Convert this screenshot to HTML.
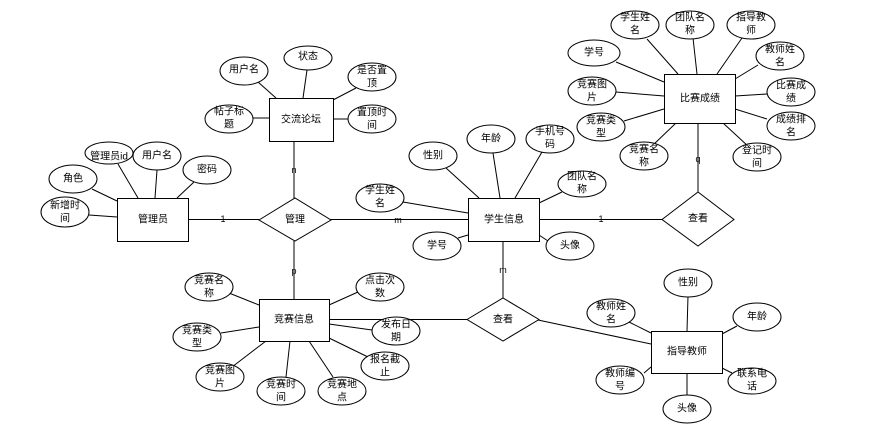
<!DOCTYPE html>
<html><head><meta charset="utf-8"><style>
html,body{margin:0;padding:0;background:#fff;}
svg{display:block;}
text{font-family:"Liberation Sans","Noto Sans CJK SC",sans-serif;font-size:10px;fill:#000;text-anchor:middle;dominant-baseline:central;}
.lbl{font-size:9px;}
</style></head><body>
<svg width="891" height="440" viewBox="0 0 891 440" xmlns="http://www.w3.org/2000/svg">
<g stroke="#000" stroke-width="1" fill="none">
<!-- admin -->
<line x1="92" y1="189" x2="117" y2="201"/>
<line x1="89" y1="215" x2="117" y2="217"/>
<line x1="118" y1="164" x2="138" y2="198"/>
<line x1="157" y1="170" x2="155" y2="198"/>
<line x1="194" y1="182" x2="177" y2="198"/>
<line x1="188" y1="219.5" x2="259" y2="219.5"/>
<line x1="294" y1="141" x2="294" y2="199"/>
<line x1="330" y1="219.5" x2="468" y2="219.5"/>
<line x1="294" y1="241" x2="294" y2="299"/>
<!-- forum -->
<line x1="258" y1="82" x2="276" y2="98"/>
<line x1="307" y1="70" x2="303" y2="98"/>
<line x1="356" y1="88" x2="333" y2="100"/>
<line x1="253" y1="118" x2="269" y2="118"/>
<line x1="333" y1="119" x2="348" y2="119"/>
<!-- student -->
<line x1="446" y1="168" x2="479" y2="198"/>
<line x1="493" y1="153" x2="500" y2="198"/>
<line x1="542" y1="152" x2="515" y2="198"/>
<line x1="562" y1="192" x2="539" y2="203"/>
<line x1="403" y1="202" x2="468" y2="213"/>
<line x1="458" y1="238" x2="468" y2="235"/>
<line x1="548" y1="241" x2="539" y2="235"/>
<line x1="539" y1="219.5" x2="662" y2="219.5"/>
<line x1="503" y1="241" x2="503" y2="298"/>
<!-- result -->
<line x1="698" y1="123" x2="698" y2="192"/>
<line x1="647" y1="39" x2="678" y2="74"/>
<line x1="693" y1="38" x2="697" y2="74"/>
<line x1="742" y1="38" x2="717" y2="74"/>
<line x1="616" y1="62" x2="664" y2="82"/>
<line x1="758" y1="65" x2="735" y2="79"/>
<line x1="616" y1="92" x2="664" y2="96"/>
<line x1="767" y1="94" x2="735" y2="96"/>
<line x1="624" y1="121" x2="664" y2="109"/>
<line x1="767" y1="119" x2="735" y2="109"/>
<line x1="652" y1="146" x2="676" y2="123"/>
<line x1="749" y1="147" x2="723" y2="123"/>
<!-- competition info -->
<line x1="229" y1="293" x2="259" y2="305"/>
<line x1="221" y1="333" x2="259" y2="327"/>
<line x1="232" y1="367" x2="266" y2="341"/>
<line x1="286" y1="377" x2="290" y2="341"/>
<line x1="333" y1="377" x2="309" y2="341"/>
<line x1="358" y1="292" x2="329" y2="305"/>
<line x1="372" y1="330" x2="329" y2="324"/>
<line x1="368" y1="357" x2="329" y2="338"/>
<line x1="329" y1="319.5" x2="467" y2="319.5"/>
<!-- teacher -->
<line x1="538" y1="320" x2="651" y2="344"/>
<line x1="688" y1="296" x2="687" y2="331"/>
<line x1="629" y1="322" x2="651" y2="333"/>
<line x1="737" y1="326" x2="722" y2="334"/>
<line x1="644" y1="373" x2="651" y2="367"/>
<line x1="732" y1="373" x2="722" y2="368"/>
<line x1="687" y1="373" x2="687" y2="395"/>
</g>
<g stroke="#000" stroke-width="1" fill="#fff">
<!-- rects -->
<rect x="117.5" y="198.5" width="71" height="43"/>
<rect x="269.5" y="98.5" width="64" height="43"/>
<rect x="468.5" y="198.5" width="71" height="43"/>
<rect x="664.5" y="74.5" width="71" height="49"/>
<rect x="259.5" y="299.5" width="70" height="42"/>
<rect x="651.5" y="331.5" width="71" height="42"/>
<!-- diamonds -->
<polygon points="259,220 295,198 331,220 295,241"/>
<polygon points="662,219.5 698,192 734,219.5 698,246"/>
<polygon points="467,319.5 503,298 539,319.5 503,341"/>
<!-- ellipses admin -->
<ellipse cx="109" cy="153" rx="24" ry="11"/>
<ellipse cx="157" cy="156" rx="24" ry="14"/>
<ellipse cx="73" cy="179" rx="24" ry="14"/>
<ellipse cx="207" cy="170" rx="24" ry="14"/>
<ellipse cx="65" cy="212" rx="24" ry="15"/>
<!-- forum -->
<ellipse cx="308" cy="58" rx="24" ry="12"/>
<ellipse cx="244" cy="71" rx="24" ry="14"/>
<ellipse cx="372" cy="77" rx="24" ry="14"/>
<ellipse cx="229" cy="119" rx="24" ry="14"/>
<ellipse cx="372" cy="119" rx="24" ry="14"/>
<!-- student -->
<ellipse cx="491" cy="139" rx="24" ry="14"/>
<ellipse cx="550" cy="139" rx="24" ry="14"/>
<ellipse cx="433" cy="156" rx="24" ry="14"/>
<ellipse cx="582" cy="184" rx="24" ry="13"/>
<ellipse cx="380" cy="198" rx="24" ry="14"/>
<ellipse cx="437" cy="246" rx="24" ry="14"/>
<ellipse cx="570" cy="246" rx="24" ry="14"/>
<!-- result -->
<ellipse cx="635" cy="25" rx="24" ry="14"/>
<ellipse cx="690" cy="25" rx="24" ry="14"/>
<ellipse cx="751" cy="25" rx="24" ry="14"/>
<ellipse cx="594" cy="53" rx="26" ry="13"/>
<ellipse cx="780" cy="56" rx="24" ry="14"/>
<ellipse cx="592" cy="91" rx="24" ry="14"/>
<ellipse cx="791" cy="92" rx="24" ry="14"/>
<ellipse cx="601" cy="127" rx="24" ry="14"/>
<ellipse cx="791" cy="126" rx="24" ry="14"/>
<ellipse cx="644" cy="156" rx="24" ry="14"/>
<ellipse cx="757" cy="157" rx="24" ry="14"/>
<!-- competition info -->
<ellipse cx="209" cy="287" rx="24" ry="14"/>
<ellipse cx="380" cy="287" rx="24" ry="14"/>
<ellipse cx="197" cy="337" rx="24" ry="14"/>
<ellipse cx="396" cy="331" rx="24" ry="14"/>
<ellipse cx="385" cy="366" rx="24" ry="14"/>
<ellipse cx="220" cy="377" rx="24" ry="14"/>
<ellipse cx="281" cy="391" rx="24" ry="14"/>
<ellipse cx="342" cy="391" rx="24" ry="14"/>
<!-- teacher -->
<ellipse cx="688" cy="283" rx="24" ry="14"/>
<ellipse cx="611" cy="313" rx="24" ry="14"/>
<ellipse cx="757" cy="317" rx="24" ry="14"/>
<ellipse cx="620" cy="380" rx="24" ry="14"/>
<ellipse cx="752" cy="381" rx="24" ry="13"/>
<ellipse cx="687" cy="409" rx="24" ry="14"/>
</g>
<!-- entity text -->
<text x="153" y="220">管理员</text>
<text x="301" y="120">交流论坛</text>
<text x="504" y="220">学生信息</text>
<text x="700" y="99">比赛成绩</text>
<text x="294" y="320">竞赛信息</text>
<text x="687" y="352">指导教师</text>
<text x="295" y="220">管理</text>
<text x="698" y="219">查看</text>
<text x="503" y="320">查看</text>
<!-- cardinality -->
<text class="lbl" x="223" y="219">1</text>
<text class="lbl" x="398" y="220">m</text>
<text class="lbl" x="294" y="170">n</text>
<text class="lbl" x="294" y="271">p</text>
<text class="lbl" x="601" y="219">1</text>
<text class="lbl" x="503" y="270">m</text>
<text class="lbl" x="698" y="159">q</text>
<!-- admin attrs -->
<text x="109" y="157">管理员id</text>
<text x="157" y="156">用户名</text>
<text x="73" y="179">角色</text>
<text x="207" y="170">密码</text>
<text x="65" y="206">新增时</text><text x="65" y="219">间</text>
<!-- forum attrs -->
<text x="308" y="57">状态</text>
<text x="244" y="70">用户名</text>
<text x="372" y="71">是否置</text><text x="372" y="84">顶</text>
<text x="229" y="112">帖子标</text><text x="229" y="125">题</text>
<text x="372" y="113">置顶时</text><text x="372" y="126">间</text>
<!-- student attrs -->
<text x="491" y="139">年龄</text>
<text x="550" y="132">手机号</text><text x="550" y="145">码</text>
<text x="433" y="156">性别</text>
<text x="582" y="177">团队名</text><text x="582" y="190">称</text>
<text x="380" y="191">学生姓</text><text x="380" y="204">名</text>
<text x="437" y="246">学号</text>
<text x="570" y="246">头像</text>
<!-- result attrs -->
<text x="635" y="18">学生姓</text><text x="635" y="31">名</text>
<text x="690" y="18">团队名</text><text x="690" y="31">称</text>
<text x="751" y="18">指导教</text><text x="751" y="31">师</text>
<text x="594" y="53">学号</text>
<text x="780" y="50">教师姓</text><text x="780" y="63">名</text>
<text x="592" y="85">竞赛图</text><text x="592" y="98">片</text>
<text x="791" y="86">比赛成</text><text x="791" y="99">绩</text>
<text x="601" y="121">竞赛类</text><text x="601" y="134">型</text>
<text x="791" y="120">成绩排</text><text x="791" y="133">名</text>
<text x="644" y="150">竞赛名</text><text x="644" y="163">称</text>
<text x="757" y="151">登记时</text><text x="757" y="164">间</text>
<!-- competition info attrs -->
<text x="209" y="281">竞赛名</text><text x="209" y="294">称</text>
<text x="380" y="281">点击次</text><text x="380" y="294">数</text>
<text x="197" y="331">竞赛类</text><text x="197" y="344">型</text>
<text x="396" y="325">发布日</text><text x="396" y="338">期</text>
<text x="385" y="360">报名截</text><text x="385" y="373">止</text>
<text x="220" y="371">竞赛图</text><text x="220" y="384">片</text>
<text x="281" y="385">竞赛时</text><text x="281" y="398">间</text>
<text x="342" y="385">竞赛地</text><text x="342" y="398">点</text>
<!-- teacher attrs -->
<text x="688" y="283">性别</text>
<text x="611" y="307">教师姓</text><text x="611" y="320">名</text>
<text x="757" y="317">年龄</text>
<text x="620" y="374">教师编</text><text x="620" y="387">号</text>
<text x="752" y="374">联系电</text><text x="752" y="387">话</text>
<text x="687" y="409">头像</text>
</svg>
</body></html>
